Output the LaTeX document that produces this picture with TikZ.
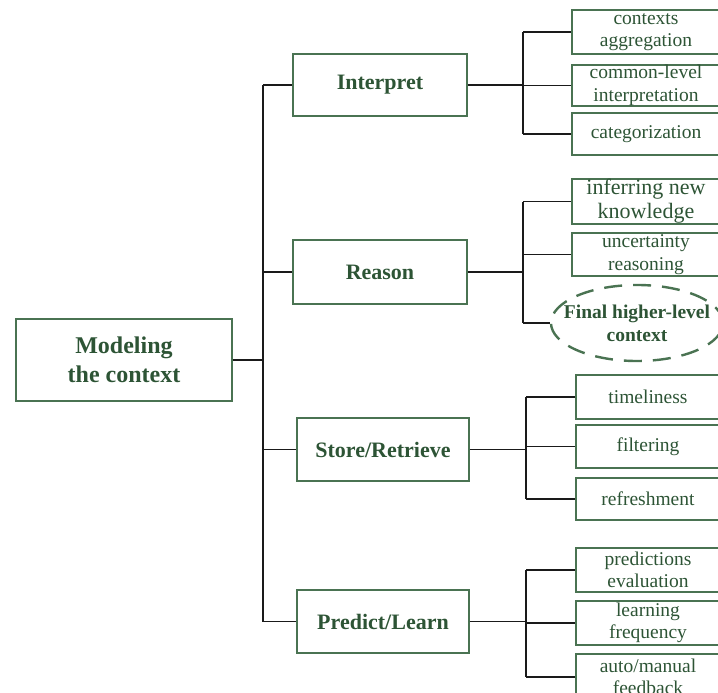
\documentclass[tikz,border=0pt]{standalone}
\usepackage{fontspec}
\setmainfont{Liberation Serif}
\usetikzlibrary{shapes.geometric}
\definecolor{boxgreen}{HTML}{4A7352}
\definecolor{txtgreen}{HTML}{2D5435}
\definecolor{linegray}{HTML}{1A1A1A}
\begin{document}
\begin{tikzpicture}[x=1pt,y=-1pt,
  mainbox/.style={draw=boxgreen,line width=1.3pt,inner sep=0pt,align=center,text=txtgreen,font=\fontsize{22}{26}\selectfont\bfseries},
  kid/.style={draw=boxgreen,line width=1.3pt,inner sep=0pt,align=center,text=txtgreen,font=\fontsize{19.5}{22.5}\selectfont},
  conn/.style={draw=linegray,line width=1.4pt}]
\useasboundingbox (0,0) rectangle (718,693);
\clip (0,0) rectangle (718,693);
% root
\node[mainbox,minimum width=216pt,minimum height=82pt,font=\fontsize{24}{29}\selectfont\bfseries] (root) at (124,360) {Modeling\\the context};
% level 1
\node[mainbox,minimum width=174pt,minimum height=62pt] (interp) at (380,85) {Interpret};
\node[mainbox,minimum width=174pt,minimum height=64pt] (reason) at (380,272) {Reason};
\node[mainbox,minimum width=172pt,minimum height=63pt] (store) at (383,449.5) {Store/Retrieve};
\node[mainbox,minimum width=172pt,minimum height=63pt] (pred) at (383,621.5) {Predict/Learn};
% interpret kids
\node[kid,minimum width=148pt,minimum height=44pt] (ca) at (646,32) {contexts\\aggregation};
\node[kid,minimum width=148pt,minimum height=41pt] (cl) at (646,85.5) {common-level\\interpretation};
\node[kid,minimum width=148pt,minimum height=42pt] (cat) at (646,134) {categorization};
% reason kids
\node[kid,minimum width=148pt,minimum height=45pt,font=\fontsize{22}{24}\selectfont] (inf) at (646,201.5) {inferring new\\knowledge};
\node[kid,minimum width=148pt,minimum height=43pt] (unc) at (646,254.5) {uncertainty\\reasoning};
\node[ellipse,draw=boxgreen,line width=2.4pt,dash pattern=on 18pt off 11pt,minimum width=172pt,minimum height=76pt,inner xsep=-13pt,inner ysep=0pt,align=center,text=txtgreen,font=\fontsize{19.5}{23}\selectfont\bfseries] (fin) at (637,323) {Final higher-level\\context};
% store kids
\node[kid,minimum width=144pt,minimum height=44pt] (tim) at (648,397) {timeliness};
\node[kid,minimum width=144pt,minimum height=43pt] (fil) at (648,446.5) {filtering};
\node[kid,minimum width=144pt,minimum height=42pt] (ref) at (648,499) {refreshment};
% predict kids
\node[kid,minimum width=144pt,minimum height=44pt] (pe) at (648,570) {predictions\\evaluation};
\node[kid,minimum width=144pt,minimum height=44pt] (lf) at (648,623) {learning\\frequency};
\node[kid,minimum width=144pt,minimum height=46pt] (am) at (648,677) {auto/manual\\feedback};
% bus coordinates
\coordinate (mb) at (263,0);
\coordinate (ib) at (523,0);
\coordinate (rb) at (523,0);
\coordinate (sb) at (526,0);
\coordinate (pb) at (526,0);
% root connectors
\draw[conn] (root.east) -- (root.east -| mb);
\draw[conn] (mb |- interp.west) -- (mb |- pred.west);
\foreach \n in {interp,reason,store,pred} \draw[conn] (mb |- \n.west) -- (\n.west);
% interpret
\draw[conn] (interp.east) -- (interp.east -| ib);
\draw[conn] (ib |- ca.west) -- (ib |- cat.west);
\foreach \n in {ca,cl,cat} \draw[conn] (ib |- \n.west) -- (\n.west);
% reason
\draw[conn] (reason.east) -- (reason.east -| rb);
\draw[conn] (rb |- inf.west) -- (rb |- fin.west);
\foreach \n in {inf,unc,fin} \draw[conn] (rb |- \n.west) -- (\n.west);
% store
\draw[conn] (store.east) -- (store.east -| sb);
\draw[conn] (sb |- tim.west) -- (sb |- ref.west);
\foreach \n in {tim,fil,ref} \draw[conn] (sb |- \n.west) -- (\n.west);
% predict
\draw[conn] (pred.east) -- (pred.east -| pb);
\draw[conn] (pb |- pe.west) -- (pb |- am.west);
\foreach \n in {pe,lf,am} \draw[conn] (pb |- \n.west) -- (\n.west);
\end{tikzpicture}
\end{document}
